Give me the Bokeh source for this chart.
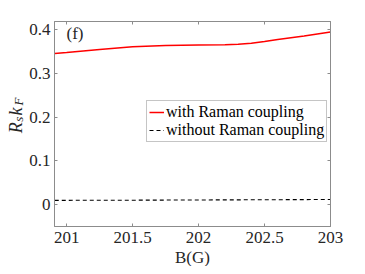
import math
from bokeh.plotting import figure
from bokeh.layouts import row
from bokeh.models import Range1d, FixedTicker, LinearAxis, Label, Legend, LegendItem, Title
from bokeh.core.properties import value
from bokeh.embed import file_html
from bokeh.resources import INLINE

# ---- data ----
b_with = [200.91, 201.0, 201.25, 201.5, 201.75, 202.0, 202.2, 202.3, 202.4, 202.5, 202.6, 202.7, 202.8, 202.9, 203.0]
rs_with = [0.346, 0.348, 0.355, 0.361, 0.364, 0.3655, 0.366, 0.367, 0.369, 0.373, 0.378, 0.382, 0.386, 0.3905, 0.395]
b_without = [200.91, 201.5, 202.0, 202.5, 203.0]
rs_without = [0.0098, 0.0102, 0.0107, 0.0112, 0.0118]
x_ticks = [201, 201.5, 202, 202.5, 203]
x_tick_labels = ["201", "201.5", "202", "202.5", "203"]
y_ticks = [0, 0.1, 0.2, 0.3, 0.4]
y_tick_labels = ["0", "0.1", "0.2", "0.3", "0.4"]
series_labels = ["with Raman coupling", "without Raman coupling"]
y_label_parts = ["R", "s", "k", "F"]

FONT = "Liberation Serif"
AX = "#8c8c8c"
TXT = "#262626"

LW = 26  # width of y-label strip
H = 266
p = figure(width=357 - LW, height=H, output_backend="svg", toolbar_location=None,
           x_range=Range1d(200.908, 203.0), y_range=Range1d(-0.05, 0.419),
           min_border_left=51 - LW, min_border_right=27, min_border_top=21, min_border_bottom=39,
           x_axis_location=None, y_axis_location=None)
p.grid.visible = False
p.outline_line_color = AX
p.outline_line_width = 1
p.background_fill_color = "white"
p.border_fill_color = "white"

def style_axis(ax, ticks, labels, show_labels):
    ax.ticker = FixedTicker(ticks=ticks)
    if show_labels:
        ax.major_label_overrides = {t: l for t, l in zip(ticks, labels)}
    else:
        ax.major_label_overrides = {t: "" for t in ticks}
    ax.axis_line_color = AX
    ax.major_tick_line_color = AX
    ax.major_tick_in = 3
    ax.major_tick_out = 0
    ax.minor_tick_line_color = None
    ax.major_label_text_font = FONT
    ax.major_label_text_color = TXT
    ax.major_label_text_font_size = "17px"
    ax.major_label_standoff = 6 if show_labels else 0

xb = LinearAxis(); style_axis(xb, x_ticks, x_tick_labels, True); p.add_layout(xb, "below")
yl = LinearAxis(); style_axis(yl, y_ticks, y_tick_labels, True); p.add_layout(yl, "left")
xt = LinearAxis(); style_axis(xt, x_ticks, x_tick_labels, False); p.add_layout(xt, "above")
yr = LinearAxis(); style_axis(yr, y_ticks, y_tick_labels, False); p.add_layout(yr, "right")
yl.major_label_standoff = 4
xb.major_label_standoff = 5

p.add_layout(Title(text="B(G)", align="center", text_font=FONT, text_font_size="17px",
                   text_color=TXT, text_font_style="normal", standoff=0), "below")

r1 = p.line(b_with, rs_with, line_color="#ff0000", line_width=1.5)
r2 = p.line(b_without, rs_without, line_color="black", line_width=1.1, line_dash="4 3")

legend = Legend(items=[LegendItem(label=series_labels[0], renderers=[r1]),
                       LegendItem(label=series_labels[1], renderers=[r2])],
                location=(92, 84))
legend.label_text_font = FONT
legend.label_text_font_size = "16px"
legend.label_text_color = "black"
legend.label_height = 18
legend.glyph_height = 18
legend.glyph_width = 15
legend.label_standoff = 2
legend.spacing = 0
legend.padding = 2
legend.margin = 0
legend.border_line_color = AX
legend.border_line_width = 1
legend.background_fill_alpha = 1
p.add_layout(legend, "center")

p.add_layout(Label(x=12, y=203, x_units="screen", y_units="screen", text="(f)",
                   text_font=FONT, text_font_size="17px", text_color=TXT,
                   text_baseline="top", text_align="left"))

# y-label strip (pixel-mapped ranges)
q = figure(width=LW, height=H, output_backend="svg", toolbar_location=None,
           x_range=Range1d(0, LW), y_range=Range1d(0, H),
           min_border=0, x_axis_location=None, y_axis_location=None)
q.grid.visible = False
q.outline_line_color = None
big_x = [15, 15]
big_y = [H - 145, H - 122]
small_x = [17.5, 17.5]
small_y = [H - 130, H - 109]
q.text(x=big_x, y=big_y, text=[y_label_parts[0], y_label_parts[2]], angle=math.pi / 2,
       text_font=value(FONT), text_font_style="italic", text_font_size="18px",
       text_color=TXT, text_baseline="alphabetic", text_align="left")
q.text(x=small_x, y=small_y, text=[y_label_parts[1], y_label_parts[3]], angle=math.pi / 2,
       text_font=value(FONT), text_font_style="italic", text_font_size="13px",
       text_color=TXT, text_baseline="alphabetic", text_align="left")

layout = row(q, p, spacing=0)
open("out.html", "w").write(file_html(layout, INLINE))
